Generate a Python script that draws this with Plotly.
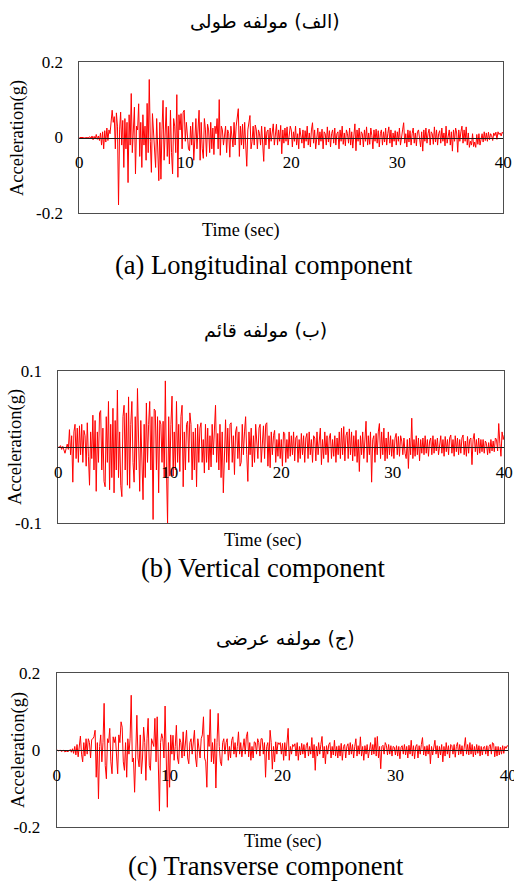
import numpy as np
import plotly.graph_objects as go

# ---------------- data (0.1 s step) ----------------
dt = 0.1
long_acc = [
 0,0,0,0.001,0,-0.001,0,0.001,0,0,
 0.002,-0.003,0.004,-0.006,0.003,-0.004,0.008,-0.005,0.004,-0.008,
 0.012,-0.02,0.015,-0.03,0.018,-0.012,0.025,-0.008,0.02,0.01,
 0.035,0.072,0.04,0.055,-0.03,0.065,0.03,-0.178,0.02,0.067,
 -0.02,0.045,-0.079,0.05,-0.03,0.04,-0.119,0.06,-0.02,0.116,
 -0.04,0.05,0.08,-0.096,0.03,0.02,0.089,-0.05,0.04,-0.079,
 0.06,-0.02,0.03,-0.06,0.09,-0.04,0.153,-0.01,-0.092,0.063,
 0.02,-0.05,-0.079,0.05,-0.03,-0.114,0.04,-0.11,0.02,0.098,
 -0.06,0.04,0.08,-0.05,0.03,-0.07,0.072,-0.04,-0.096,0.05,
 0.03,-0.04,0.113,-0.105,0.06,0.02,0.063,-0.03,0.067,0.072,
 -0.01,0.04,-0.008,-0.03,-0.035,0.03,-0.02,0.04,-0.06,0.01,
 0.05,-0.03,0.02,0.072,-0.06,0.04,-0.03,-0.055,0.05,0.02,
 -0.05,0.035,0.02,-0.04,0.04,-0.03,0.025,-0.045,0.03,0.01,
 0.05,-0.03,0.1,-0.047,0.03,0.02,-0.02,0.01,0.03,-0.04,
 0.02,0.01,-0.052,0.03,-0.01,-0.025,0.04,-0.02,0.03,0.05,
 0.076,-0.05,0.03,-0.02,0.035,-0.03,0.04,-0.02,-0.076,0.02,
 0.04,0.058,-0.03,-0.01,0.03,-0.02,0.033,0.02,-0.03,0.02,
 0.01,-0.02,0.03,-0.015,-0.063,0.028,-0.02,0.015,0.02,-0.03,
 0.025,-0.01,0.015,0.036,-0.02,0.01,0.035,-0.02,0.02,-0.01,
 0.032,-0.043,0.02,-0.015,0.025,-0.01,0.028,-0.02,0.01,0.03,
 0.02,-0.025,0.015,-0.01,0.03,-0.02,0.01,-0.03,0.025,0.005,
 -0.015,0.02,-0.028,0.018,-0.01,0.03,-0.02,0.012,-0.025,0.02,
 0.039,-0.015,0.02,-0.03,0.01,0.025,-0.02,0.015,-0.01,0.022,
 -0.03,0.015,0.01,-0.02,0.028,-0.012,0.018,-0.025,0.01,0.02,
 -0.015,0.025,-0.02,0.01,0.015,-0.03,0.02,-0.01,0.03,-0.018,
 0.012,-0.022,0.02,0.01,-0.015,0.025,-0.02,0.015,-0.028,0.018,
 0.036,-0.035,0.02,-0.01,0.025,-0.02,0.015,0.01,-0.025,0.02,
 -0.01,0.028,-0.02,0.012,-0.018,0.025,0.005,-0.03,0.02,-0.01,
 0.022,-0.015,0.018,-0.025,0.01,0.02,-0.02,0.015,-0.012,0.025,
 -0.02,0.01,0.028,-0.015,0.02,-0.025,0.012,-0.01,0.018,-0.02,
 0.015,-0.01,0.025,-0.02,0.01,0.02,0.039,-0.015,0.01,-0.025,
 0.02,-0.012,0.018,-0.02,0.01,0.025,-0.015,0.012,-0.022,0.015,
 0.02,-0.01,-0.025,0.015,-0.036,0.02,-0.01,0.025,-0.015,0.01,
 0.022,-0.02,0.015,0.01,-0.018,0.028,-0.012,0.02,-0.02,0.01,
 0.018,-0.015,0.025,-0.01,0.012,-0.022,0.03,-0.015,0.01,0.02,
 -0.02,0.015,-0.036,0.02,-0.01,0.025,0.012,-0.039,0.02,-0.01,
 0.015,0.03,-0.015,0.02,-0.01,0.028,-0.02,0.012,-0.026,-0.01,
 -0.02,0.01,-0.024,-0.012,-0.026,0.008,-0.018,0.01,-0.02,-0.005,
 0.01,-0.012,0.015,-0.008,0.012,-0.01,0.014,-0.006,0.01,0.005,
 -0.008,0.012,0.005,0.014,-0.005,0.015,0.008,0.012,0.004,0.014,
 0.01]

vert_acc = [
 0,0,0.002,-0.003,0.001,-0.005,-0.008,-0.002,0.004,-0.003,
 0.023,-0.01,0.015,-0.046,0.02,0.03,-0.015,0.025,-0.02,0.028,
 -0.01,0.03,-0.02,0.022,0.015,-0.025,0.032,-0.012,-0.05,0.02,
 -0.015,0.042,-0.03,0.035,-0.058,0.02,-0.02,0.045,0.048,-0.03,
 0.025,-0.045,-0.052,0.04,-0.02,0.06,-0.056,0.03,-0.04,0.051,
 -0.06,0.035,-0.03,0.075,-0.04,0.02,-0.05,-0.065,0.04,0.055,
 -0.03,0.045,-0.05,0.066,-0.054,0.03,0.06,-0.02,-0.046,0.04,
 -0.03,0.077,-0.02,-0.058,0.035,-0.02,-0.069,0.03,-0.04,0.058,
 -0.02,0.03,0.06,-0.03,0.04,-0.095,0.05,0.048,-0.03,0.04,
 -0.06,0.035,0.03,-0.02,0.034,-0.04,0.087,-0.03,-0.1,0.04,
 -0.038,0.03,0.067,-0.038,0.02,-0.03,0.06,-0.02,0.03,-0.032,
 0.04,0.055,-0.052,0.02,-0.03,0.03,0.034,-0.02,0.045,0.03,
 -0.043,0.02,-0.03,0.025,-0.052,0.03,-0.02,0.025,0.032,-0.02,
 0.01,-0.034,0.03,-0.02,0.025,-0.03,0.015,-0.026,0.03,-0.01,
 0.02,0.055,-0.02,0.018,-0.03,0.03,-0.04,0.02,-0.06,0.01,
 0.036,-0.02,0.025,-0.03,0.03,0.032,-0.02,0.015,-0.036,0.02,
 0.027,-0.015,0.02,-0.025,-0.02,0.03,-0.01,0.02,0.04,-0.01,
 -0.045,0.02,-0.01,0.025,-0.026,0.015,-0.02,0.03,0.01,-0.015,
 0.025,0.03,-0.02,0.01,0.028,-0.015,0.03,0.032,-0.025,0.015,
 -0.027,0.02,-0.01,0.015,0.022,-0.02,0.01,-0.012,0.018,-0.015,
 0.01,-0.025,0.02,0.018,-0.02,0.01,-0.015,0.02,-0.012,0.015,
 -0.01,0.02,-0.018,0.012,0.015,-0.02,0.01,-0.015,0.018,-0.01,
 0.015,-0.02,0.012,0.018,-0.015,0.02,-0.01,0.01,-0.02,0.015,
 0.012,-0.018,0.02,-0.01,0.015,0.025,-0.023,0.01,-0.015,0.02,
 -0.01,0.015,-0.02,0.012,0.018,-0.015,0.01,-0.012,0.015,-0.02,
 0.012,-0.01,0.02,-0.015,0.025,-0.01,0.027,-0.018,0.015,0.02,
 -0.015,0.024,-0.01,0.02,-0.018,0.015,-0.012,0.022,-0.02,0.01,
 -0.032,0.015,-0.01,0.02,-0.015,0.01,0.034,-0.02,0.015,-0.01,
 0.02,-0.046,0.01,0.015,-0.02,0.018,-0.01,0.02,0.031,-0.015,
 0.02,-0.01,0.025,-0.018,0.012,-0.015,0.02,-0.01,0.015,-0.012,
 0.01,-0.015,0.012,0.018,-0.01,0.014,-0.012,0.015,0.008,-0.01,
 0.012,-0.008,-0.015,0.01,-0.028,0.012,-0.01,0.038,-0.015,0.01,
 -0.012,0.015,-0.01,0.012,-0.018,0.01,-0.008,0.012,-0.01,0.015,
 -0.008,0.01,-0.012,0.008,0.012,-0.01,0.015,-0.008,0.01,-0.005,
 0.012,-0.01,0.008,0.015,-0.008,0.01,-0.012,0.014,-0.006,0.01,
 -0.01,0.012,0.016,-0.008,0.01,-0.012,0.015,-0.006,0.012,-0.01,
 0.01,-0.008,0.012,0.016,-0.01,0.008,-0.012,0.014,-0.008,0.01,
 0.012,-0.023,0.01,0.018,-0.006,0.01,-0.01,0.012,-0.008,0.01,
 -0.006,0.01,-0.008,0.008,0.005,-0.01,0.006,-0.008,0.01,-0.005,
 0.008,-0.006,0.012,0.01,-0.005,0.031,0.005,-0.012,0.02,0.01,
 0.016]

trans_acc = [
 0,0,-0.002,0.001,-0.003,-0.002,0,-0.004,-0.003,-0.002,
 -0.004,-0.002,0.002,-0.005,0.004,-0.008,0.01,-0.012,0.015,-0.017,
 0.012,0.037,-0.01,-0.03,0.02,-0.015,0.03,-0.01,0.03,0.02,
 -0.02,0.028,0.03,0.035,0.052,-0.07,0.02,-0.126,0.01,0.04,
 -0.03,0.02,0.122,-0.04,-0.074,0.03,0.02,0.057,-0.03,-0.061,
 0.035,0.02,0.035,-0.02,-0.061,0.04,0.02,0.074,0.06,-0.03,
 -0.052,0.02,-0.07,0.03,-0.01,0.03,0.143,-0.03,-0.02,-0.109,
 0.04,0.091,-0.02,-0.043,0.04,-0.061,-0.02,0.06,0.02,-0.078,
 0.03,0.083,-0.04,-0.052,0.03,0.02,0.01,0.083,-0.03,0.087,
 -0.06,-0.158,0.02,0.043,0.03,-0.02,0.115,-0.02,-0.148,0.02,
 -0.096,0.04,-0.01,0.039,-0.026,0.01,0.065,-0.02,-0.035,0.03,
 0.02,-0.02,0.048,-0.015,0.03,0.052,-0.02,-0.035,0.02,0.03,
 -0.01,0.02,0.052,-0.02,-0.043,0.03,0.01,-0.02,0.03,0.04,
 0.087,-0.02,-0.03,-0.096,0.04,0.01,0.106,-0.03,0.02,-0.035,
 0.03,-0.098,0.02,0.096,0.01,-0.03,-0.04,0.02,0.03,-0.01,
 0.02,0.03,-0.026,0.01,-0.02,0.026,0.035,-0.01,0.02,-0.018,
 0.01,0.048,-0.01,0.02,-0.017,0.01,0.03,-0.01,0.035,0.048,
 -0.017,0.02,-0.026,0.01,-0.02,0.022,0.02,-0.01,0.03,0.02,
 -0.015,0.03,0.03,-0.01,0.02,-0.07,0.01,0.02,-0.025,0.052,
 0.02,-0.049,0.01,-0.03,0.022,-0.01,0.02,0.015,0.02,-0.01,
 0.018,-0.026,0.02,-0.015,0.015,0.057,-0.026,0.01,-0.01,0.015,
 0.01,0.017,-0.015,0.02,-0.026,0.01,-0.012,0.018,-0.01,0.015,
 -0.02,0.012,0.02,-0.015,0.01,-0.01,0.033,-0.02,0.015,-0.052,
 0.01,-0.015,0.02,-0.01,0.015,0.036,-0.02,0.01,-0.035,0.012,
 -0.01,0.015,0.02,-0.02,0.01,-0.012,0.026,-0.015,0.01,-0.02,
 0.012,-0.015,0.018,-0.026,0.01,0.015,-0.02,0.01,0.017,-0.012,
 0.02,-0.01,0.015,-0.02,0.01,0.03,-0.015,0.012,-0.01,0.035,
 -0.015,0.01,-0.026,0.012,-0.01,0.015,-0.02,0.01,0.02,-0.012,
 0.015,-0.01,0.033,-0.015,0.036,-0.02,0.01,-0.048,0.01,0.013,
 -0.01,0.02,0.013,-0.012,0.015,-0.01,0.012,-0.015,0.01,0.008,
 -0.012,0.012,-0.015,0.01,-0.022,0.008,0.012,-0.01,0.015,-0.012,
 0.01,-0.02,0.013,-0.01,0.026,-0.015,0.012,-0.022,0.01,0.015,
 -0.02,0.012,-0.01,0.015,0.033,-0.012,0.01,-0.015,0.012,-0.01,
 0.015,-0.035,0.01,-0.012,0.015,0.026,-0.01,0.012,-0.02,0.01,
 -0.012,0.015,-0.03,0.01,-0.015,0.02,-0.01,0.012,-0.02,0.015,
 0.012,-0.01,0.015,-0.018,0.01,0.02,-0.012,0.015,-0.01,0.012,
 -0.015,0.02,0.033,-0.01,0.015,-0.012,0.02,-0.01,0.015,-0.017,
 0.01,-0.012,0.015,-0.008,0.012,-0.015,0.01,-0.012,0.008,0.01,
 -0.01,0.012,-0.015,0.01,0.015,-0.01,0.02,0.017,-0.017,0.01,
 -0.015,0.01,-0.012,0.008,-0.01,0.012,-0.008,0.01,0.005,0.012,
 0.01]

x_ticks = [0, 10, 20, 30, 40]
y_ticks_long = [-0.2, 0, 0.2]
y_labels_long = ["-0.2", "0", "0.2"]
y_ticks_vert = [-0.1, 0.1]
y_labels_vert = ["-0.1", "0.1"]
y_ticks_trans = [-0.2, 0, 0.2]
y_labels_trans = ["-0.2", "0", "0.2"]

titles_fa = ["\u200f(الف)\u200f مولفه طولی", "\u200f(ب)\u200f مولفه قائم", "\u200f(ج)\u200f مولفه عرضی"]
captions = ["(a) Longitudinal component", "(b) Vertical component", "(c) Transverse component"]
x_title = "Time (sec)"
y_title = "Acceleration(g)"

# ---------------- layout geometry (pixels) ----------------
W, H = 514, 882
SERIF = "Liberation Serif, Times New Roman, serif"

panels = [
    dict(y=long_acc, xl=79.3, xr=503.3, yt=61.7, yb=213.3, yr=[-0.2, 0.2],
         tv=y_ticks_long, tt=y_labels_long,
         fa=(265, 22), yt_pos=(18, 138), xt_pos=(241, 230), cap=(264, 265)),
    dict(y=vert_acc, xl=58.3, xr=504.3, yt=371.0, yb=523.3, yr=[-0.1, 0.1],
         tv=y_ticks_vert, tt=y_labels_vert,
         fa=(265, 331), yt_pos=(15, 447), xt_pos=(263, 540), cap=(263, 568)),
    dict(y=trans_acc, xl=56.7, xr=508.3, yt=673.3, yb=827.3, yr=[-0.2, 0.2],
         tv=y_ticks_trans, tt=y_labels_trans,
         fa=(285, 638), yt_pos=(18, 750), xt_pos=(283, 841), cap=(266, 866)),
]

fig = go.Figure()
layout = dict(width=W, height=H, margin=dict(l=0, r=0, t=0, b=0),
              paper_bgcolor="white", plot_bgcolor="white", showlegend=False,
              font=dict(family=SERIF, color="black"))
annotations = []

def px(x):
    return x / W

def py(y):
    return 1 - y / H

for i, p in enumerate(panels):
    n = i + 1
    t = np.arange(len(p["y"])) * dt
    sx = "" if n == 1 else str(n)
    ox_name = str(n + 3)
    ydom = [py(p["yb"]), py(p["yt"])]
    xdom = [px(p["xl"]), px(p["xr"])]
    fig.add_trace(go.Scatter(x=t, y=p["y"], mode="lines",
                             line=dict(color="#ff0000", width=1),
                             xaxis="x" + sx, yaxis="y" + sx, hoverinfo="skip"))
    # empty trace so that the zero-crossing time axis gets its own (overlay) subplot
    fig.add_trace(go.Scatter(x=[], y=[], mode="lines", xaxis="x" + ox_name,
                             yaxis="y" + sx, hoverinfo="skip"))
    layout["xaxis" + sx] = dict(domain=xdom, range=[0, 40], anchor="y" + sx,
                                showline=True, mirror=True, linecolor="#4d4d4d",
                                linewidth=1, showticklabels=False, ticks="",
                                showgrid=False, zeroline=False, fixedrange=True,
                                automargin=False)
    layout["yaxis" + sx] = dict(domain=ydom, range=p["yr"], anchor="x" + sx,
                                showline=True, mirror=True, linecolor="#4d4d4d",
                                linewidth=1, tickvals=p["tv"], ticktext=p["tt"],
                                ticks="", ticklabelstandoff=12,
                                tickfont=dict(family=SERIF, size=17, color="black"),
                                showgrid=False, zeroline=False, fixedrange=True,
                                automargin=False)
    layout["xaxis" + ox_name] = dict(overlaying="x" + sx, anchor="free",
                      position=(ydom[0] + ydom[1]) / 2, range=[0, 40],
                      showline=True, linecolor="#1a1a1a", linewidth=1,
                      tickvals=x_ticks, ticks="", ticklabelstandoff=9,
                      ticklabeloverflow="allow",
                      tickfont=dict(family=SERIF, size=17, color="black"),
                      showgrid=False, zeroline=False, fixedrange=True,
                      automargin=False, layer="above traces")
    annotations += [
        dict(text=titles_fa[i], x=px(p["fa"][0]), y=py(p["fa"][1]),
             font=dict(family="DejaVu Sans", size=19, color="black")),
        dict(text=y_title, x=px(p["yt_pos"][0]), y=py(p["yt_pos"][1]), textangle=-90,
             font=dict(family=SERIF, size=18.5, color="black")),
        dict(text=x_title, x=px(p["xt_pos"][0]), y=py(p["xt_pos"][1]),
             font=dict(family=SERIF, size=18.2, color="black")),
        dict(text=captions[i], x=px(p["cap"][0]), y=py(p["cap"][1]),
             font=dict(family=SERIF, size=26.5, color="black")),
    ]

for a in annotations:
    a.update(xref="paper", yref="paper", xanchor="center", yanchor="middle",
             showarrow=False)
layout["annotations"] = annotations
fig.update_layout(**layout)
fig.write_html("out.html", config={"displayModeBar": False},
               post_script="document.body.style.margin='0';document.body.style.overflow='hidden';")
